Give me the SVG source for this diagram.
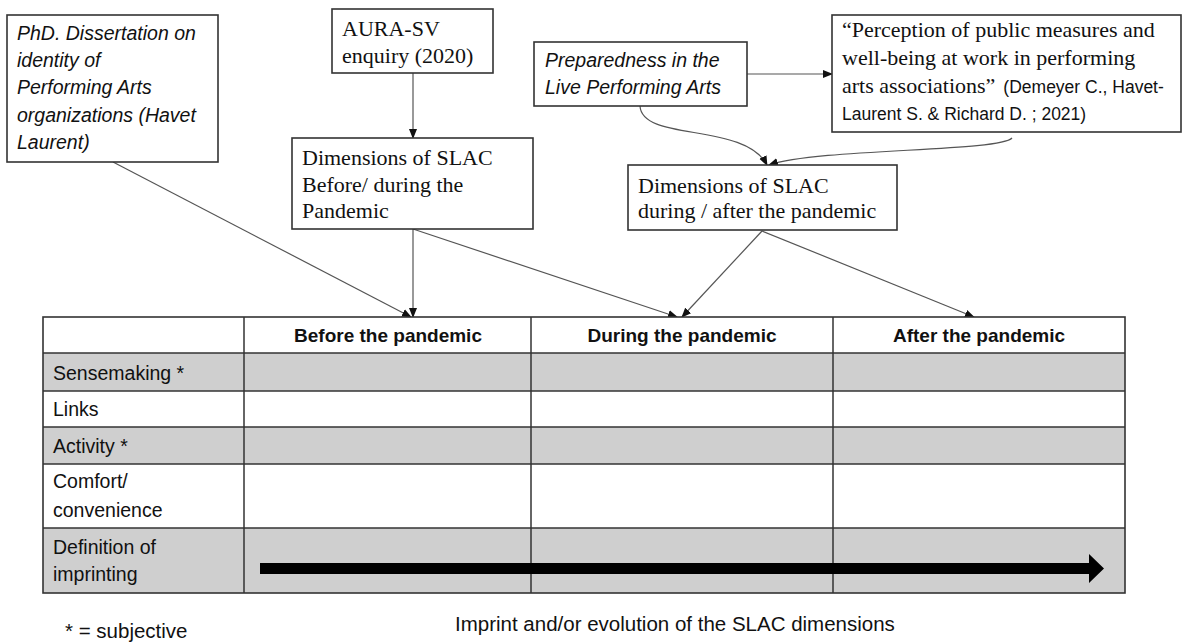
<svg xmlns="http://www.w3.org/2000/svg" width="1186" height="644" viewBox="0 0 1186 644">
<style>
.box{fill:#fff;stroke:#333;stroke-width:1.6}
.serif{font-family:"Liberation Serif","Times New Roman",serif;font-size:22px;fill:#111}
.sansi{font-family:"Liberation Sans",Arial,sans-serif;font-style:italic;font-size:19.5px;fill:#111}
.cite{font-family:"Liberation Sans",Arial,sans-serif;font-size:17.5px;fill:#111}
.cell{font-family:"Liberation Sans",Arial,sans-serif;font-size:19.5px;fill:#111}
.foot{font-family:"Liberation Sans",Arial,sans-serif;font-size:20.5px;fill:#111}
.hdr{font-family:"Liberation Sans",Arial,sans-serif;font-size:19px;font-weight:bold;fill:#111;text-anchor:middle}
.conn{fill:none;stroke:#555;stroke-width:1.2;marker-end:url(#ah)}
.grid{stroke:#333;stroke-width:1.5}
.gray{fill:#cfcfcf}
</style>
<defs>
<marker id="ah" markerUnits="userSpaceOnUse" markerWidth="10" markerHeight="10" viewBox="0 0 10 10" refX="9" refY="5" orient="auto">
<path d="M0,1 L10,5 L0,9 Z" fill="#111"/>
</marker>
</defs>
<rect width="1186" height="644" fill="#fff"/>

<g id="connectors">
<path class="conn" d="M113,162 L411,317"/>
<path class="conn" d="M413,229 L413,317"/>
<path class="conn" d="M413,229 L677,317"/>
<path class="conn" d="M762,231 L682,317"/>
<path class="conn" d="M762,231 L974,317"/>
<path class="conn" d="M413,73 L413,138"/>
<path class="conn" d="M747,74 L832,74"/>
<path class="conn" d="M640,106 C642,142 745,122 767,165"/>
<path class="conn" d="M1012,138 C1000,152 820,148 769,165"/>
</g>

<g id="node-phd">
<rect class="box" x="7" y="15" width="211" height="147"/>
<text class="sansi" x="17" y="40">PhD. Dissertation on</text>
<text class="sansi" x="17" y="67">identity of</text>
<text class="sansi" x="17" y="94">Performing Arts</text>
<text class="sansi" x="17" y="122">organizations (Havet</text>
<text class="sansi" x="17" y="149">Laurent)</text>
</g>

<g id="node-aura">
<rect class="box" x="332" y="9" width="161" height="64"/>
<text class="serif" x="342" y="36">AURA-SV</text>
<text class="serif" x="342" y="63">enquiry (2020)</text>
</g>

<g id="node-slac-before">
<rect class="box" x="292" y="138" width="241" height="91"/>
<text class="serif" x="302" y="165">Dimensions of SLAC</text>
<text class="serif" x="302" y="192">Before/ during the</text>
<text class="serif" x="302" y="218">Pandemic</text>
</g>

<g id="node-preparedness">
<rect class="box" x="534" y="42" width="213" height="64"/>
<text class="sansi" x="545" y="67">Preparedness in the</text>
<text class="sansi" x="545" y="94">Live Performing Arts</text>
</g>

<g id="node-perception">
<rect class="box" x="832" y="15" width="349" height="117"/>
<text class="serif" x="842" y="37">“Perception of public measures and</text>
<text class="serif" x="842" y="65">well-being at work in performing</text>
<text x="842" y="93"><tspan class="serif">arts associations”</tspan><tspan class="cite" dx="8">(Demeyer C., Havet-</tspan></text>
<text class="cite" x="842" y="120">Laurent S. &amp; Richard D. ; 2021)</text>
</g>

<g id="node-slac-after">
<rect class="box" x="628" y="165" width="269" height="65"/>
<text class="serif" x="638" y="193">Dimensions of SLAC</text>
<text class="serif" x="638" y="218">during / after the pandemic</text>
</g>

<g id="table">
<rect x="43" y="317" width="1082" height="36" fill="#fff"/>
<rect class="gray" x="43" y="353" width="1082" height="38"/>
<rect x="43" y="391" width="1082" height="36" fill="#fff"/>
<rect class="gray" x="43" y="427" width="1082" height="37"/>
<rect x="43" y="464" width="1082" height="64" fill="#fff"/>
<rect class="gray" x="43" y="528" width="1082" height="65"/>
<rect x="43" y="317" width="1082" height="276" fill="none" stroke="#333" stroke-width="1.6"/>
<line class="grid" x1="43" y1="353" x2="1125" y2="353" stroke-width="2.4"/>
<line class="grid" x1="43" y1="391" x2="1125" y2="391"/>
<line class="grid" x1="43" y1="427" x2="1125" y2="427"/>
<line class="grid" x1="43" y1="464" x2="1125" y2="464"/>
<line class="grid" x1="43" y1="528" x2="1125" y2="528"/>
<line class="grid" x1="244" y1="317" x2="244" y2="593"/>
<line class="grid" x1="531" y1="317" x2="531" y2="593"/>
<line class="grid" x1="833" y1="317" x2="833" y2="593"/>
<text class="hdr" x="388" y="342">Before the pandemic</text>
<text class="hdr" x="682" y="342">During the pandemic</text>
<text class="hdr" x="979" y="342">After the pandemic</text>
<text class="cell" x="53" y="380">Sensemaking *</text>
<text class="cell" x="53" y="416">Links</text>
<text class="cell" x="53" y="453">Activity *</text>
<text class="cell" x="53" y="488">Comfort/</text>
<text class="cell" x="53" y="517">convenience</text>
<text class="cell" x="53" y="554">Definition of</text>
<text class="cell" x="53" y="581">imprinting</text>
<polygon points="260,563 1089,563 1089,554 1104,568.5 1089,583 1089,574 260,574" fill="#000"/>
</g>

<text class="foot" x="455" y="631">Imprint and/or evolution of the SLAC dimensions</text>
<text class="foot" x="65" y="638">* = subjective</text>
</svg>
